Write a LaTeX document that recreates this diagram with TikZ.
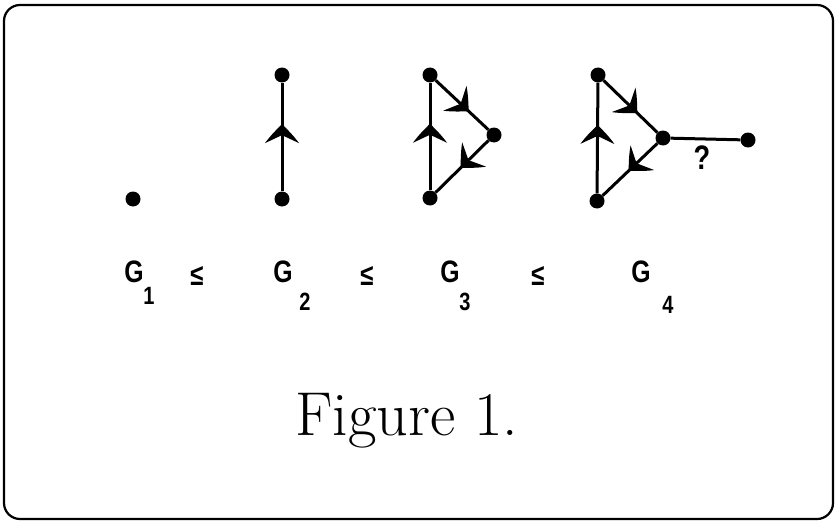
\documentclass[tikz,border=0pt]{standalone}
\usepackage{fontspec}
\newfontfamily\labelfont[FakeStretch=0.8]{Liberation Sans}
\usetikzlibrary{decorations.markings}

\begin{document}
\begin{tikzpicture}[
    x=1pt, y=-1pt,
    vertex/.style={
        circle,
        fill=black,
        inner sep=0pt,
        minimum size=15pt
    },
    edge/.style={
        line width=3pt
    },
    midarrow/.style={
        postaction={decorate},
        decoration={markings,
            mark=at position #1 with {
                \fill (2pt,0pt) .. controls (-4pt,6pt) and (-10pt,12pt) .. (-17pt,17pt)
                    .. controls (-13pt,8pt) .. (-9pt,0pt)
                    .. controls (-13pt,-8pt) .. (-17pt,-17pt)
                    .. controls (-10pt,-12pt) and (-4pt,-6pt) .. (2pt,0pt);
            }}
    },
    glabel/.style={
        font=\fontsize{31}{33}\selectfont\labelfont\bfseries
    },
    gsub/.style={
        font=\fontsize{25}{27}\selectfont\labelfont\bfseries
    },
    rel/.style={
        font=\fontsize{30}{32}\selectfont\labelfont\bfseries
    }
]

% Frame
\useasboundingbox (0,0) rectangle (837,524);
\draw[line width=2.2pt, rounded corners=16pt] (4,5) rectangle (833,519);

% G1
\node[vertex] (a1) at (133,199) {};

% G2
\node[vertex] (b1) at (282,75) {};
\node[vertex] (b2) at (282,199) {};
\draw[edge, midarrow=0.6] (b2) -- (b1);

% G3
\node[vertex] (c1) at (430,75) {};
\node[vertex] (c2) at (494,135) {};
\node[vertex] (c3) at (430,198) {};
\draw[edge, midarrow=0.6] (c3) -- (c1);
\draw[edge, midarrow=0.6] (c1) -- (c2);
\draw[edge, midarrow=0.5] (c2) -- (c3);

% G4
\node[vertex] (d1) at (598,75) {};
\node[vertex] (d2) at (663,138) {};
\node[vertex] (d3) at (597,201) {};
\node[vertex] (d4) at (748,140) {};
\draw[edge, midarrow=0.6] (d3) -- (d1);
\draw[edge, midarrow=0.6] (d1) -- (d2);
\draw[edge, midarrow=0.5] (d2) -- (d3);
\draw[edge] (d2) -- (d4);
\node[font=\fontsize{34}{36}\selectfont\labelfont\bfseries] (q) at (702,158) {?};

% Labels
\node[glabel] (g1) at (134,272) {G};
\node[gsub] (s1) at (149,296) {1};
\node[rel] (r1) at (197,276) {≤};
\node[glabel] (g2) at (283,272) {G};
\node[gsub] (s2) at (305,302) {2};
\node[rel] (r2) at (367,276) {≤};
\node[glabel] (g3) at (450,272) {G};
\node[gsub] (s3) at (465,302) {3};
\node[rel] (r3) at (538,276) {≤};
\node[glabel] (g4) at (641,272) {G};
\node[gsub] (s4) at (668,305) {4};

% Caption
\node[anchor=base, font=\fontsize{62}{66}\selectfont\addfontfeature{LetterSpace=3}] (cap) at (407,435) {Figure 1.};

\end{tikzpicture}
\end{document}
